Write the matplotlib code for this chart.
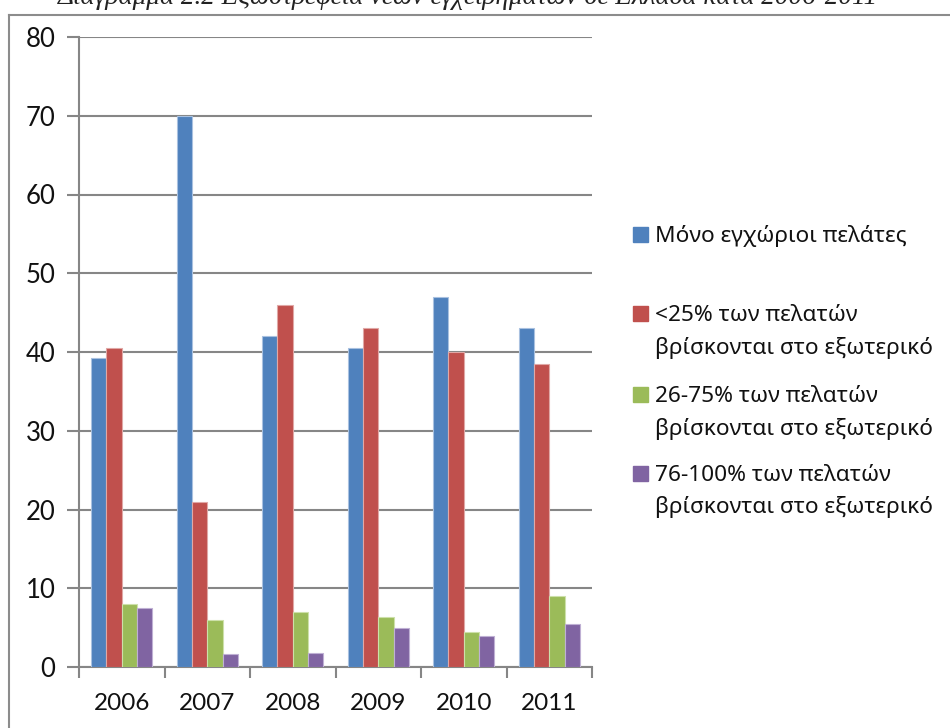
import numpy as np
import matplotlib.pyplot as plt
from matplotlib.patches import Rectangle
from matplotlib.lines import Line2D

years = ['2006', '2007', '2008', '2009', '2010', '2011']
domestic_only = [39.3, 70, 42, 40.5, 47, 43]
under_25 = [40.5, 21, 46, 43, 40, 38.5]
pct_26_75 = [8, 6, 7, 6.4, 4.5, 9]
pct_76_100 = [7.5, 1.6, 1.8, 4.9, 4, 5.5]

labels = ['Μόνο εγχώριοι πελάτες',
          '<25% των πελατών\nβρίσκονται στο εξωτερικό',
          '26-75% των πελατών\nβρίσκονται στο εξωτερικό',
          '76-100% των πελατών\nβρίσκονται στο εξωτερικό']
colors = ['#4F81BD', '#C0504D', '#9BBB59', '#8064A2']
edges = ['#a9c1e0', '#e0a8a6', '#cde0aa', '#bfb0d4']

plt.rcParams['font.family'] = ['Noto Sans', 'DejaVu Sans']

W, H = 950, 728
fig = plt.figure(figsize=(W / 100, H / 100), dpi=100)
ax = fig.add_axes([79 / W, 1 - 667 / H, 513 / W, 630 / H])

# outer frame of the chart (left and top only visible)
fig.lines.append(Line2D([9 / W, 9 / W], [0, 1 - 15 / H], transform=fig.transFigure,
                        color='#8c8c8c', linewidth=1.5))
fig.lines.append(Line2D([9 / W, 1], [1 - 15 / H, 1 - 15 / H], transform=fig.transFigure,
                        color='#8c8c8c', linewidth=1.5))

# title, cut at the top of the picture
fig.text(0.493, 1.004, 'Διάγραμμα 2.2 Εξωστρέφεια νέων εγχειρημάτων σε Ελλάδα κατά 2006-2011',
         ha='center', va='center', fontsize=19.5, style='italic',
         family='Liberation Serif', color='#222222')

x = np.arange(len(years))
w = 0.179
series = [domestic_only, under_25, pct_26_75, pct_76_100]
for i, vals in enumerate(series):
    ax.bar(x + (i - 1.5) * w, vals, width=w, color=colors[i],
           edgecolor=edges[i], linewidth=0.8, zorder=3)

ax.set_xlim(-0.5, 5.5)
ax.set_ylim(0, 80)
ax.set_yticks(range(0, 81, 10))
ax.yaxis.grid(True, color='#868686', linewidth=1.5, zorder=0)
ax.set_xticks(x)
ax.set_xticklabels(years, fontsize=17.5, family='Lato', color='#111111')
ax.tick_params(axis='x', length=0, pad=19)
ax.set_xticks(np.arange(-0.5, 6, 1), minor=True)
ax.tick_params(axis='x', which='minor', length=8, width=1.5, color='#868686', direction='out')
ax.tick_params(axis='y', length=9, width=1.5, color='#868686', labelsize=18.5, pad=8)
for t in ax.get_yticklabels():
    t.set_family('Lato')
    t.set_color('#111111')

for s in ['top', 'right']:
    ax.spines[s].set_visible(False)
for s in ['left', 'bottom']:
    ax.spines[s].set_color('#868686')
    ax.spines[s].set_linewidth(1.5)

# legend, drawn as Excel does: marker beside the first line of each entry
first_base = [242, 321, 402, 481]
for i, lab in enumerate(labels):
    yb = first_base[i]
    fig.patches.append(Rectangle((633 / W, 1 - yb / H), 15 / W, 15 / H,
                                 transform=fig.transFigure, color=colors[i]))
    for j, line in enumerate(lab.split('\n')):
        fig.text(655 / W, 1 - (yb + 32.5 * j) / H, line, ha='left', va='baseline',
                 fontsize=16.3, color='#111111')

plt.savefig('out.png', dpi=100)
